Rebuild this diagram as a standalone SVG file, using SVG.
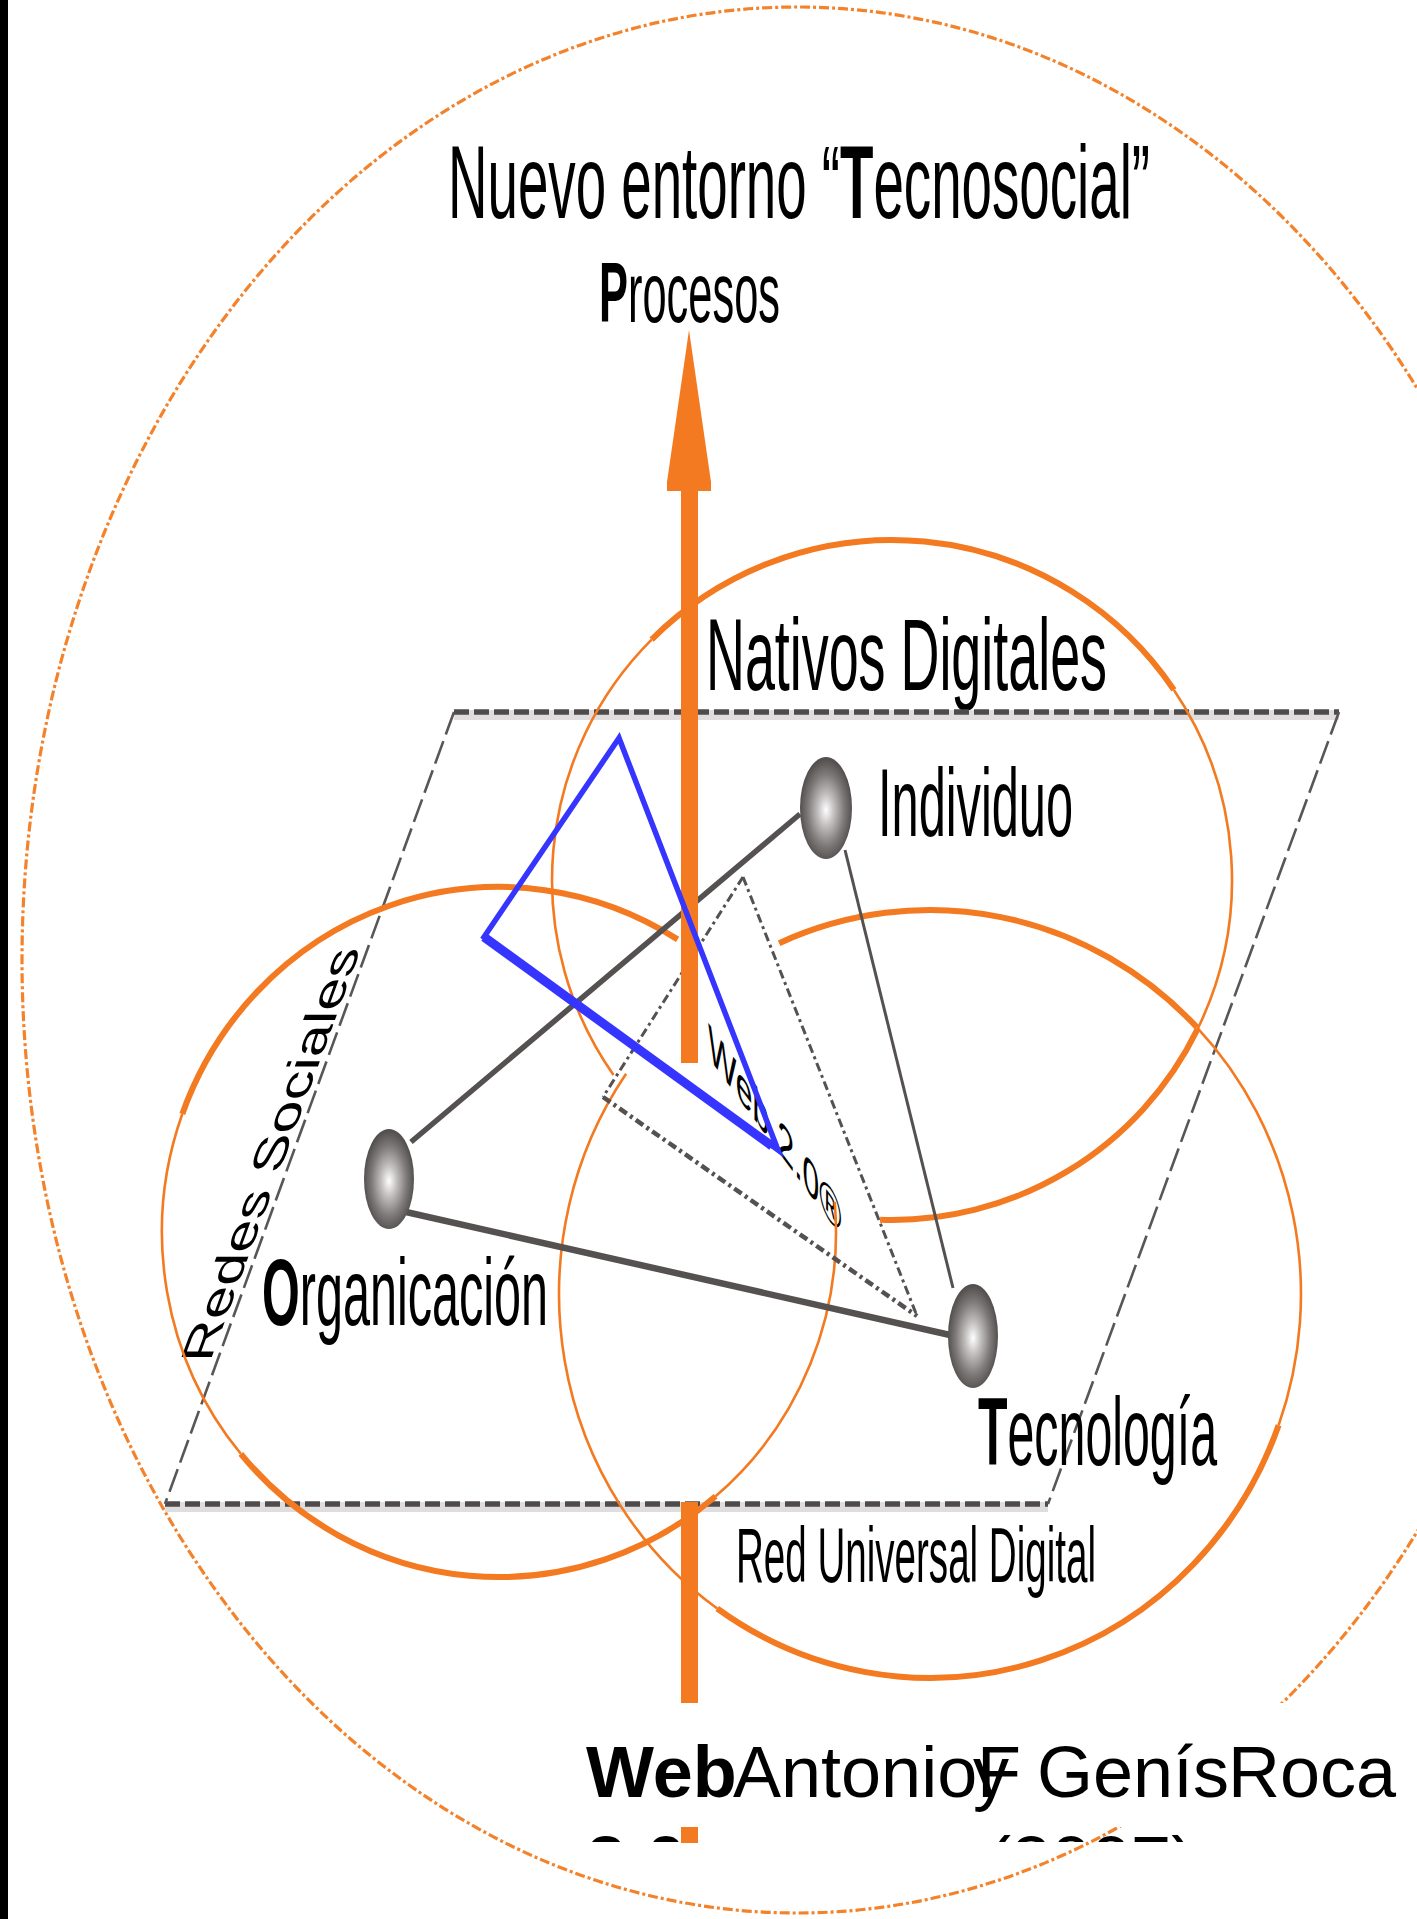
<svg xmlns="http://www.w3.org/2000/svg" width="1417" height="1919" viewBox="0 0 1417 1919">
<defs>
<style>
.ringT{fill:none;stroke:#F37A20;stroke-width:6}
.ringt{fill:none;stroke:#F37A20;stroke-width:2.6}
.outer{fill:none;stroke:#F4822A;stroke-width:3.2;stroke-dasharray:10 3 3 3}
.halo{stroke:#dfdddd;stroke-width:10;fill:none}
.ph{stroke:#4f4b4b;stroke-width:5.5;stroke-dasharray:15 5;fill:none}
.pv{stroke:#5a5656;stroke-width:2.6;stroke-dasharray:24 7;fill:none}
.wp{stroke:#555151;fill:none;stroke-dasharray:9 4 3 4}
.link{stroke:#555151;fill:none}
.lbl{font-family:"Liberation Sans Narrow","Liberation Sans",Arial,sans-serif;fill:#000}
.cap{font-family:"Liberation Sans",Arial,sans-serif;font-size:72px;fill:#000}
.or{fill:#F37A20}
</style>
<radialGradient id="ball" cx="50%" cy="52%" r="50%">
<stop offset="0" stop-color="#ffffff"/>
<stop offset="0.3" stop-color="#c4c1c1"/>
<stop offset="0.7" stop-color="#7f7a7a"/>
<stop offset="1" stop-color="#555050"/>
</radialGradient>
<clipPath id="line2clip"><rect x="560" y="1700" width="857" height="142"/></clipPath>
</defs>
<rect x="0" y="0" width="1417" height="1919" fill="#ffffff"/>
<rect x="0" y="0" width="8" height="1919" fill="#000000"/>
<ellipse id="outer-ellipse" class="outer" cx="797" cy="960" rx="775" ry="953"/>

<g id="labels">
<text id="title" class="lbl" x="448" y="218" font-size="103" textLength="702" lengthAdjust="spacingAndGlyphs">Nuevo entorno “<tspan font-weight="bold">T</tspan>ecnosocial”</text>
<text id="procesos" class="lbl" x="599" y="322" font-size="85" textLength="181" lengthAdjust="spacingAndGlyphs"><tspan font-weight="bold">P</tspan>rocesos</text>
<text id="nativos" class="lbl" x="706" y="690" font-size="102" textLength="401" lengthAdjust="spacingAndGlyphs">Nativos Digitales</text>
<text id="red-universal" class="lbl" x="736" y="1582" font-size="77" textLength="360" lengthAdjust="spacingAndGlyphs">Red Universal Digital</text>
<text id="redes-sociales" class="lbl" font-size="44" textLength="441" lengthAdjust="spacingAndGlyphs" transform="matrix(0.343,-0.939,1,0,210,1362)">Redes Sociales</text>
<text id="web20" class="lbl" font-size="50" transform="matrix(0.60,0.81,0,1,708,1057)">Web 2.0®</text>
</g>

<g id="plane">
<line class="halo" x1="454" y1="715" x2="1339" y2="715"/>
<line class="ph" x1="454" y1="712" x2="1339" y2="712"/>
<line class="halo" x1="165" y1="1507" x2="1048" y2="1507"/>
<line class="ph" x1="165" y1="1504" x2="1048" y2="1504"/>
<line class="pv" x1="454" y1="712" x2="165" y2="1504"/>
<line class="pv" x1="1339" y1="712" x2="1048" y2="1504"/>
</g>

<g id="rings">
<g id="ring-nativos">
<path class="ringT" d="M651.6,639.6 A340,340 0 0 1 1173.9,689.9"/>
<path class="ringt" d="M1173.9,689.9 A340,340 0 0 1 1197.6,1029"/>
<path class="ringT" d="M1197.6,1029 A340,340 0 0 1 880.1,1219.8"/>
<path class="ringt" d="M613.5,1075 A340,340 0 0 1 651.6,639.6"/>
</g>
<g id="ring-organizacion">
<path class="ringT" d="M182.3,1114 A337,345 0 0 1 677.6,939.4"/>
<path class="ringt" d="M834.7,1202 A337,345 0 0 1 715.6,1496.3"/>
<path class="ringT" d="M715.6,1496.3 A337,345 0 0 1 240.8,1453.8"/>
<path class="ringt" d="M240.8,1453.8 A337,345 0 0 1 182.3,1114"/>
</g>
<g id="ring-tecnologia">
<path class="ringT" d="M779.1,943.2 A371,384 0 0 1 1196.9,1027.3"/>
<path class="ringt" d="M1196.9,1027.3 A371,384 0 0 1 1278.6,1425.3"/>
<path class="ringT" d="M1278.6,1425.3 A371,384 0 0 1 717.2,1608.5"/>
<path class="ringt" d="M717.2,1608.5 A371,384 0 0 1 626.1,1073.8"/>
</g>
</g>

<g id="web-plane">
<line class="wp" stroke-width="3" stroke-dasharray="8 5" x1="743" y1="877" x2="603" y2="1097"/>
<line class="wp" stroke-width="3" x1="743" y1="877" x2="917" y2="1316"/>
<line class="wp" stroke-width="4.5" x1="603" y1="1097" x2="917" y2="1316"/>
</g>

<g id="connectors">
<line class="link" stroke-width="5.5" x1="411" y1="1142" x2="800" y2="814"/>
<line class="link" stroke-width="6.5" x1="406" y1="1212" x2="950" y2="1335"/>
<line class="link" stroke-width="3" x1="845" y1="850" x2="953" y2="1288"/>
</g>

<g id="node-individuo">
<ellipse cx="826" cy="808" rx="26" ry="51" fill="url(#ball)"/>
<text class="lbl" x="878" y="836" font-size="96" textLength="195" lengthAdjust="spacingAndGlyphs">Individuo</text>
</g>
<g id="node-organizacion">
<ellipse cx="389" cy="1179" rx="25" ry="50" fill="url(#ball)"/>
<text class="lbl" x="262" y="1325" font-size="94" textLength="286" lengthAdjust="spacingAndGlyphs"><tspan font-weight="bold">O</tspan>rganicación</text>
</g>
<g id="node-tecnologia">
<ellipse cx="973" cy="1336" rx="25" ry="52" fill="url(#ball)"/>
<text class="lbl" x="978" y="1465" font-size="97" textLength="239" lengthAdjust="spacingAndGlyphs"><tspan font-weight="bold">T</tspan>ecnología</text>
</g>

<g id="arrow-procesos">
<polygon class="or" points="689,330 711,482 711,491 667,491 667,482"/>
<rect class="or" x="681" y="490" width="17" height="573"/>
<rect class="or" x="681" y="1502" width="17" height="341"/>
</g>

<polygon id="blue-triangle" points="619,738 484,937 778,1150" fill="none" stroke="#3535FF" stroke-width="5.5" stroke-linejoin="miter"/>
<line x1="484" y1="937" x2="772" y2="1146" stroke="#3535FF" stroke-width="9"/>

<g id="caption">
<rect x="580" y="1703" width="837" height="124" fill="#ffffff"/>
<text class="cap" x="586" y="1797" font-weight="bold">Web</text>
<text class="cap" x="733" y="1797">Antonio</text>
<text class="cap" x="973" y="1797">y</text>
<text class="cap" x="977" y="1797">F</text>
<text class="cap" x="1037" y="1797">Genís</text>
<text class="cap" x="1228" y="1797">Roca</text>
<g clip-path="url(#line2clip)">
<text class="cap" x="586" y="1887" font-weight="bold">2.0</text>
<text class="cap" x="987" y="1887">(2007)</text>
</g>
</g>
</svg>
